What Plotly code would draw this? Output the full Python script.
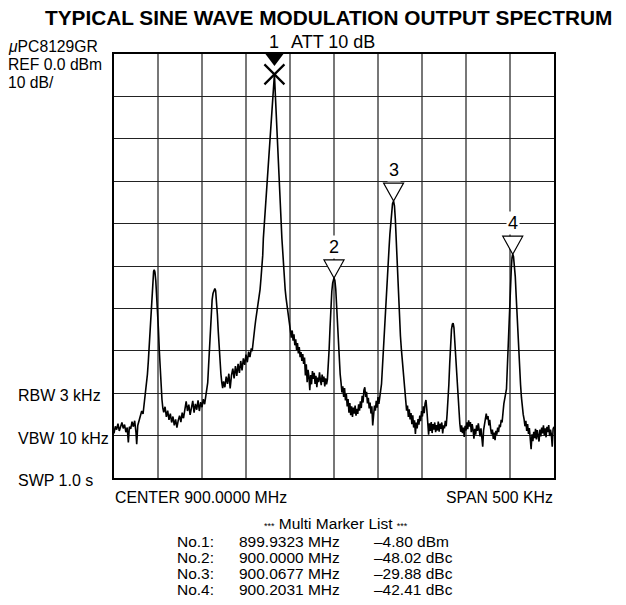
import plotly.graph_objects as go

# ---------------- data ----------------
center_mhz = 900.0
span_khz = 500
ref_dbm = 0.0
db_per_div = 10

# trace: frequency offset from centre (kHz) and level (dBm)
trace_khz = [
    -250, -248.5, -247, -245.5, -244, -242.5, -241, -239.5, -238, -236.5, -235, -233.7, -232.5, -231,
    -229.5, -228, -226.5, -225, -224.2, -223, -221.5, -220, -218.5, -217, -216, -215, -214, -213, -212,
    -211, -210, -209, -208, -207, -206, -205, -204.3, -203.5, -202.5, -201.5, -200.5, -199.5, -198.5,
    -197.5, -196.5, -195.5, -194.5,
    -193.5, -192, -190.5, -189, -187.5, -186, -184.5, -183, -181.5, -180, -178.5, -177, -175.5, -174,
    -172.5, -171, -169.5, -168, -166.5, -165, -163.5, -162, -160.5, -159, -157.5, -156, -154.5, -153,
    -151.5, -150, -148.5, -147, -145.5, -144.5,
    -143.5, -142.5, -141.5, -140.5, -139.5, -138.5, -137.5, -136.5, -135.4, -134.5, -133.5, -132.5,
    -131.5, -130.5, -129.5, -128.5, -127.5, -126.5,
    -125.5, -124, -122.5, -121, -119.5, -118, -116.5, -115, -113.5, -112, -110.5, -109, -107.5, -106,
    -104.5, -103, -101.5, -100, -98.5, -97, -95.5, -94, -93, -92, -91, -90, -89, -88, -87, -86, -85,
    -84, -83, -82, -81,
    -80.3, -67.7, -59.2,
    -57.5, -56.5, -55.5, -54.5, -53.5, -52.5, -51.5, -50.5, -49.5, -48.5, -47.5, -46.5, -45.5, -44.5,
    -43.5, -42.5, -41.5, -40.5, -39.5, -38.5, -37.5, -36.5, -35.5, -34.5, -33.5, -32.5, -31.5, -30.5,
    -29.5, -28.5, -27.5, -26.5, -25.5, -24.5, -23.5, -22.5, -21.5, -20.5, -19.5, -18.5, -17.5, -16.5,
    -15.5, -14.5, -13.5, -12.5, -11.5, -10.5, -9.5, -8.5, -7.5,
    -6.5, -5.5, -4.5, -3.5, -2.5, -1.5, -0.5, 0, 1, 2, 3, 4, 5, 6, 7,
    8, 9, 10, 11, 12, 13, 14, 15, 16, 17, 18, 19, 20, 21, 22, 23, 24, 25, 26, 27, 28, 29, 30, 31, 32,
    33, 34, 35, 36, 37, 38, 39, 40, 41, 42, 43, 44, 45, 46, 47, 48, 49, 50, 51, 52, 53, 54, 55, 56,
    57, 58, 59,
    59.5, 60.5, 61.5, 62.5, 63.5, 64.5, 65.5, 66.5, 67.7, 68.7, 69.7, 70.7, 71.7, 72.7, 73.7, 74.5,
    75.5, 76.5, 77.5, 78.5, 79.5, 80.5,
    81.5, 82.5, 83.5, 84.5, 85.5, 86.5, 87.5, 88.5, 89.5, 90.5, 91.5, 92.5, 93.5, 94.5, 95.5, 96.5,
    97.5, 98.5, 99.5, 100.5, 101.5, 102.5, 103.5, 104.5, 105.5, 106.5, 107.5, 108.5, 109.5, 110.5,
    111.5, 112.5, 113.5, 114.5, 115.5, 116.5, 117.5, 118.5, 119.5, 120.5, 121.5, 122.5, 123.5, 124.5,
    125.5, 126.5, 127.5,
    128.5, 129.5, 130.5, 131.5, 132.5, 133.5, 134.5, 135.4, 136.3, 137.2, 138.2, 139.2, 140.2, 141.2,
    142.2,
    143, 144, 145, 146, 147, 148, 149, 150, 151, 152, 153, 154, 155, 156, 157, 158, 159, 160, 161,
    162, 163, 164, 165, 166, 167, 168, 169, 170, 171, 172, 173, 174, 175, 176, 177, 178, 179, 180,
    181, 182, 183, 184, 185, 186, 187, 188, 189, 190, 191, 192, 193,
    196, 197.5, 198.5, 199.5, 200.5, 201.5, 202.3, 203.1, 204, 205, 206, 207, 208, 209, 210, 211,
    212, 213, 214, 215,
    216, 217, 218, 219, 220, 221, 222, 223, 224, 225, 226, 227, 228, 229, 230, 231, 232, 233, 234,
    235, 236, 237, 238, 239, 240, 241, 242, 243, 244, 245, 246, 247, 248, 249, 250,
]
trace_dbm = [
    -89.5, -87.8, -88.6, -87.2, -88.9, -87.5, -86.9, -88.3, -87.4, -89.2, -88.1, -91.6, -87.9, -88.4,
    -86.7, -87.9, -86.5, -89.3, -92.0, -87.6, -86.4, -85.1, -84.2, -84.9, -83.2, -81.8, -79.5, -77.5,
    -75.5, -72.5, -68.5, -64.5, -60, -56, -53, -51.3, -50.9, -51.4, -53.5, -56.5, -60.5, -65, -70,
    -74.5, -78.5, -81.5, -83.5,
    -84.5, -83.2, -85.6, -84.1, -86.3, -84.8, -86.9, -85.5, -87.6, -86.2, -88.1, -86.4, -85.3, -86.8,
    -84.6, -85.9, -83.8, -81.9, -84.2, -82.7, -85.1, -83.4, -81.8, -84.6, -82.5, -83.9, -81.7, -84.2,
    -82.1, -83.3, -81.4, -82.6, -80.8, -79.5,
    -77.5, -73.5, -69, -64, -60.5, -58, -56.5, -55.6, -55.3, -55.8, -58, -61.5, -65.5, -69.5, -73,
    -75.5, -77.5, -78.8,
    -77.2, -78.6, -76.1, -77.8, -75.4, -78.9, -75.8, -74.2, -76.5, -73.6, -75.9, -73.1, -75.2, -72.4,
    -74.6, -71.8, -73.3, -70.9, -72.7, -70.2, -71.5, -69.4, -70.1, -67.5, -66.4, -64.5, -62.8, -61.5,
    -60.3, -58.8, -57.4, -55.5, -53, -50.5, -47.5,
    -43.5, -4.8, -43.5,
    -50, -53, -55.5, -57.5, -59.2, -60.8, -62.6, -63.4, -64.8, -66.9, -65.2, -67.6, -66.1, -68.7,
    -67.3, -69.8, -68.2, -70.6, -69.1, -71.5, -70.3, -72.4, -70.8, -73.1, -71.6, -75.8, -73.2, -77.4,
    -74.5, -76.1, -79.3, -75.7, -77.9, -74.8, -76.6, -75.2, -77.8, -75.9, -78.6, -76.3, -77.4, -75.1,
    -76.8, -78.1, -75.6, -77.3, -76.1, -78.4, -76.5, -77.9, -76.8,
    -74, -69.5, -64.5, -59.5, -56, -54, -53, -52.82, -53.4, -55.5, -59.5, -64.5, -69, -72.5, -75.5,
    -77.5, -79.8, -78.4, -80.9, -78.8, -81.7, -80.2, -83.1, -81.4, -84.6, -82.3, -85.2, -83.1, -85.6,
    -83.4, -84.8, -82.9, -85.3, -83.7, -84.9, -82.6, -84.1, -81.9, -83.5, -80.6, -82.2, -79.3, -78.6,
    -80.9, -79.7, -82.4, -81.1, -83.6, -82.2, -84.8, -83.1, -87.6, -84.5, -82.9, -84.1, -81.8, -83.4,
    -80.9, -82.5, -80.2, -79.4, -77.8, -74, -69, -64.5, -60, -56.5,
    -55, -52, -49, -46, -42.5, -39.5, -37, -35.3, -34.68, -35.8, -39, -44, -50, -55.5, -60, -63,
    -66.5, -69.5, -72, -75.5, -78.5, -81,
    -82.4, -84.1, -82.9, -85.6, -83.8, -86.2, -84.7, -87.3, -85.2, -88.1, -86.4, -89.6, -86.9, -88.3,
    -86.1, -87.4, -85.3, -86.6, -84.2, -85.5, -83.1, -84.7, -82.4, -81.6, -83.9, -86.2, -89.8, -87.1,
    -88.9, -86.8, -89.4, -87.3, -88.6, -86.9, -89.2, -87.5, -88.8, -86.7, -89.1, -87.2, -88.4, -86.9,
    -89.5, -87.6, -88.3, -86.5, -87.8,
    -85, -82, -78, -73, -68, -65, -63.7, -63.5, -64.5, -67.5, -71.5, -75.5, -79.5, -83, -85.5,
    -87.2, -89.1, -87.6, -89.4, -88.1, -90.3, -87.7, -88.8, -86.9, -88.5, -86.4, -87.9, -86.8, -89.2,
    -87.3, -88.6, -90.7, -88.4, -89.8, -87.6, -88.9, -87.1, -88.5, -90.2, -88.3, -91.5, -92.6, -88.7,
    -87.3, -85.9, -84.8, -86.2, -85.4, -87.6, -86.3, -88.4, -89.7, -88.6, -90.8, -89.3, -91.1, -88.9,
    -89.8, -88.1, -89.2, -87.4, -88.0, -86.3, -86.9, -84.7, -82.5,
    -79, -70, -63.5, -58, -54, -50.5, -48, -47.21, -47.8, -49.5, -52.5, -57, -62, -66.5, -70.5, -74.5,
    -78, -81, -83.5, -85,
    -86.1, -87.8, -86.5, -88.9, -87.3, -89.6, -88.2, -90.4, -93.2, -89.7, -91.3, -89.1, -90.6, -88.4,
    -90.9, -88.7, -89.8, -91.4, -88.6, -90.2, -88.1, -89.5, -87.6, -89.9, -88.3, -90.4, -87.9, -89.2,
    -87.5, -90.1, -88.6, -89.7, -92.6, -88.4, -87.9,
]

marker_no = [1, 2, 3, 4]
marker_mhz = [899.9323, 900.0000, 900.0677, 900.2031]
marker_val = [-4.80, -48.02, -29.88, -42.41]
marker_unit = ["dBm", "dBc", "dBc", "dBc"]

title_text = "TYPICAL SINE WAVE MODULATION OUTPUT SPECTRUM"
top_left_labels = ["<i>\u03bc</i>PC8129GR", "REF 0.0 dBm", "10 dB/"]
bottom_left_labels = ["RBW 3 kHz", "VBW 10 kHz", "SWP 1.0 s"]
att_label = "ATT 10 dB"
center_label = "CENTER 900.0000 MHz"
span_label = "SPAN 500 KHz"
list_title = "Multi Marker List"

# ---------------- derived ----------------
m_khz = [(f - center_mhz) * 1000 for f in marker_mhz]
m_dbm = [v if u == "dBm" else marker_val[0] + v for v, u in zip(marker_val, marker_unit)]

# plot-area pixel geometry
L, R, T, B = 114, 554, 54, 478
W, H = 626, 605


def P(px, py):
    return (px - L) / (R - L), (B - py) / (B - T)


FONT = "Liberation Sans, Arial, sans-serif"
ann = []


def note(text, px, py, xanchor="left", size=15.7, bold=False):
    x, y = P(px, py)
    ann.append(dict(xref="paper", yref="paper", x=x, y=y, text=f"<b>{text}</b>" if bold else text,
                    showarrow=False, xanchor=xanchor, yanchor="middle",
                    font=dict(size=size, color="black", family=FONT)))


note(title_text, 328, 17, "center", 20.8, True)
for i, t in enumerate(top_left_labels):
    note(t, 6, 47 + i * 17.5)
for t, py in zip(bottom_left_labels, [395, 438, 480]):
    note(t, 16, py, size=16)
note(att_label, 289, 42, size=18)
note(center_label, 113, 497, size=15.8)
note(span_label, 555, 497, "right", size=15.8)
star = "<span style='font-size:9px'>***</span>"
note(f"{star} {list_title} {star}", 336, 523, "center", 15.5)
for i, (n, f, v, u) in enumerate(zip(marker_no, marker_mhz, marker_val, marker_unit)):
    py = 541 + i * 16
    note(f"No.{n}:", 175, py, size=15.5)
    note(f"{f:.4f} MHz", 237, py, size=15.5)
    note(f"\u2013{abs(v):.2f} {u}", 372, py, size=15.5)

# marker number labels
ann.append(dict(x=m_khz[0], y=ref_dbm, xref="x", yref="y", yshift=12, text=str(marker_no[0]),
                showarrow=False, font=dict(size=18, color="black", family=FONT)))
for i in range(1, 4):
    ann.append(dict(x=m_khz[i], y=m_dbm[i], xref="x", yref="y", yshift=31, text=str(marker_no[i]),
                    showarrow=False, bgcolor="white", borderpad=1,
                    font=dict(size=18, color="black", family=FONT)))

shapes = [dict(type="path", xref="x", yref="y", xsizemode="pixel", ysizemode="pixel",
               xanchor=m_khz[0], yanchor=ref_dbm, path="M-9,0 L9,0 L0,-12 Z",
               fillcolor="black", line=dict(width=0), layer="above")]
for i in range(1, 4):
    shapes.append(dict(type="path", xref="x", yref="y", xsizemode="pixel", ysizemode="pixel",
                       xanchor=m_khz[i], yanchor=m_dbm[i], path="M0,0 L-10,18 L10,18 Z",
                       fillcolor="white", line=dict(width=1.2, color="black"), layer="between"))

fig = go.Figure()
fig.add_trace(go.Scatter(x=trace_khz, y=trace_dbm, mode="lines",
                         line=dict(color="black", width=1.6), hoverinfo="skip"))
fig.add_trace(go.Scatter(x=[m_khz[0]], y=[m_dbm[0]], mode="markers", cliponaxis=False,
                         marker=dict(symbol="x-thin", size=20, line=dict(width=2.2, color="black")),
                         hoverinfo="skip"))

fig.update_layout(
    width=W, height=H, margin=dict(l=L, r=W - R, t=T, b=H - B),
    paper_bgcolor="white", plot_bgcolor="white", showlegend=False,
    font=dict(family=FONT, color="black"),
    annotations=ann, shapes=shapes,
    xaxis=dict(range=[-span_khz / 2, span_khz / 2], tick0=-span_khz / 2, dtick=span_khz / 10,
               showticklabels=False, ticks="", showgrid=True, gridcolor="#777777", gridwidth=1.8,
               zeroline=False, showline=True, mirror=True, linecolor="black", linewidth=2),
    yaxis=dict(range=[ref_dbm - 10 * db_per_div, ref_dbm], tick0=ref_dbm, dtick=db_per_div,
               showticklabels=False, ticks="", showgrid=True, gridcolor="#222222", gridwidth=1.2,
               zeroline=False, showline=True, mirror=True, linecolor="black", linewidth=2),
)

fig.write_html("out.html", config={"displayModeBar": False},
               post_script="document.body.style.margin='0';")
